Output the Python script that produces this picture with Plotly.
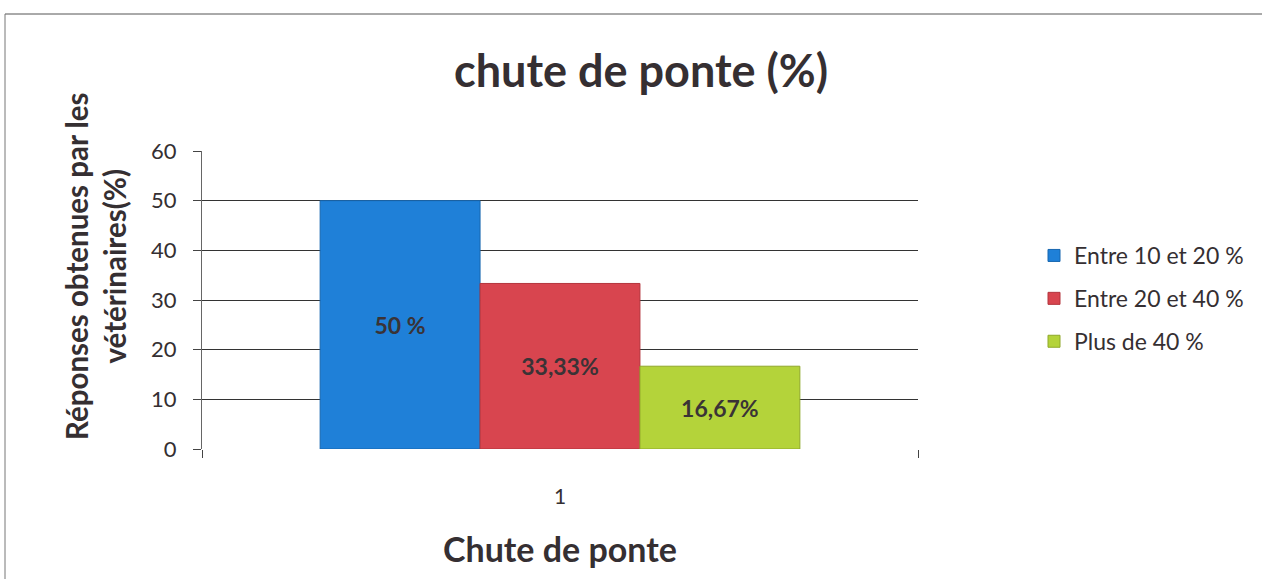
import plotly.graph_objects as go

categories = ["1"]
series_names = ["Entre 10 et 20 %", "Entre 20 et 40 %", "Plus de 40 %"]
series_values = [50, 33.33, 16.67]
series_labels = ["50 %", "33,33%", "16,67%"]
series_colors = ["#1f80d8", "#d8454f", "#b4d33a"]
line_colors = ["#1766b0", "#b3353d", "#8fa82a"]
y_ticks = [0, 10, 20, 30, 40, 50, 60]

FONT = "Lato"
TXT = "#352f32"
W, H = 1262, 579
# target pixel positions of the plot area
L, R, T, B = 202, 918, 151, 449

fig = go.Figure()
for i, (name, v, lab) in enumerate(zip(series_names, series_values, series_labels)):
    fig.add_trace(go.Bar(
        x=categories, y=[v], name=name, text=[lab],
        textposition="inside", insidetextanchor="middle",
        textfont=dict(family=FONT, size=23, color="#3a3336", weight="bold"),
        marker=dict(color=series_colors[i], line=dict(color=line_colors[i], width=1)),
        legendgroup=f"g{i}",
    ))

def px2x(px):
    return (px - L) / (R - L)

def py2y(py):
    return (B - py) / (B - T)

fig.update_layout(
    width=W, height=H,
    margin=dict(l=L, r=W - R, t=T, b=H - B),
    paper_bgcolor="white", plot_bgcolor="white",
    barmode="group", bargap=0.33, bargroupgap=0,
    font=dict(family=FONT, color=TXT),
    showlegend=True,
    legend=dict(x=px2x(1034), y=py2y(234), xanchor="left", yanchor="top",
                font=dict(family=FONT, size=23, color=TXT),
                tracegroupgap=10, itemwidth=30, bgcolor="rgba(0,0,0,0)"),
    uniformtext=dict(mode=False),
)
fig.update_xaxes(
    type="category", showgrid=False, tickson="boundaries",
    ticks="outside", ticklen=8, tickcolor="#444",
    tickfont=dict(family=FONT, size=21, color=TXT), ticklabelstandoff=33,
    showline=False, zeroline=False,
)
fig.update_yaxes(
    range=[0, 60], tickvals=y_ticks, showgrid=True, gridcolor="#333", gridwidth=1,
    ticks="outside", ticklen=8, tickcolor="#444",
    tickfont=dict(family=FONT, size=22, color=TXT), ticklabelstandoff=12,
    showline=True, linecolor="#666", linewidth=1, zeroline=False,
)
# chart title
fig.add_annotation(
    text="<b>chute de ponte (%)</b>", xref="paper", yref="paper",
    x=px2x(641), y=py2y(70), xanchor="center", yanchor="middle", showarrow=False,
    font=dict(family=FONT, size=45, color=TXT),
)
# x axis title
fig.add_annotation(
    text="<b>Chute de ponte</b>", xref="paper", yref="paper",
    x=px2x(560), y=py2y(548), xanchor="center", yanchor="middle", showarrow=False,
    font=dict(family=FONT, size=34, color=TXT),
)
# y axis title
fig.add_annotation(
    text="<b>Réponses obtenues par les<br>vétérinaires(%)</b>",
    xref="paper", yref="paper", x=px2x(95), y=py2y(266),
    xanchor="center", yanchor="middle", textangle=-90, showarrow=False,
    font=dict(family=FONT, size=29.5, color=TXT),
)
# outer chart border (top and left edges visible in the reference)
fig.add_shape(type="line", xref="paper", yref="paper",
              x0=px2x(5), x1=px2x(1262), y0=py2y(14), y1=py2y(14),
              line=dict(color="#555", width=1))
fig.add_shape(type="line", xref="paper", yref="paper",
              x0=px2x(5), x1=px2x(5), y0=py2y(14), y1=py2y(579),
              line=dict(color="#777", width=1))

fig.write_html("out.html", config={"displayModeBar": False},
               post_script="document.body.style.margin='0';document.body.style.overflow='hidden';")
